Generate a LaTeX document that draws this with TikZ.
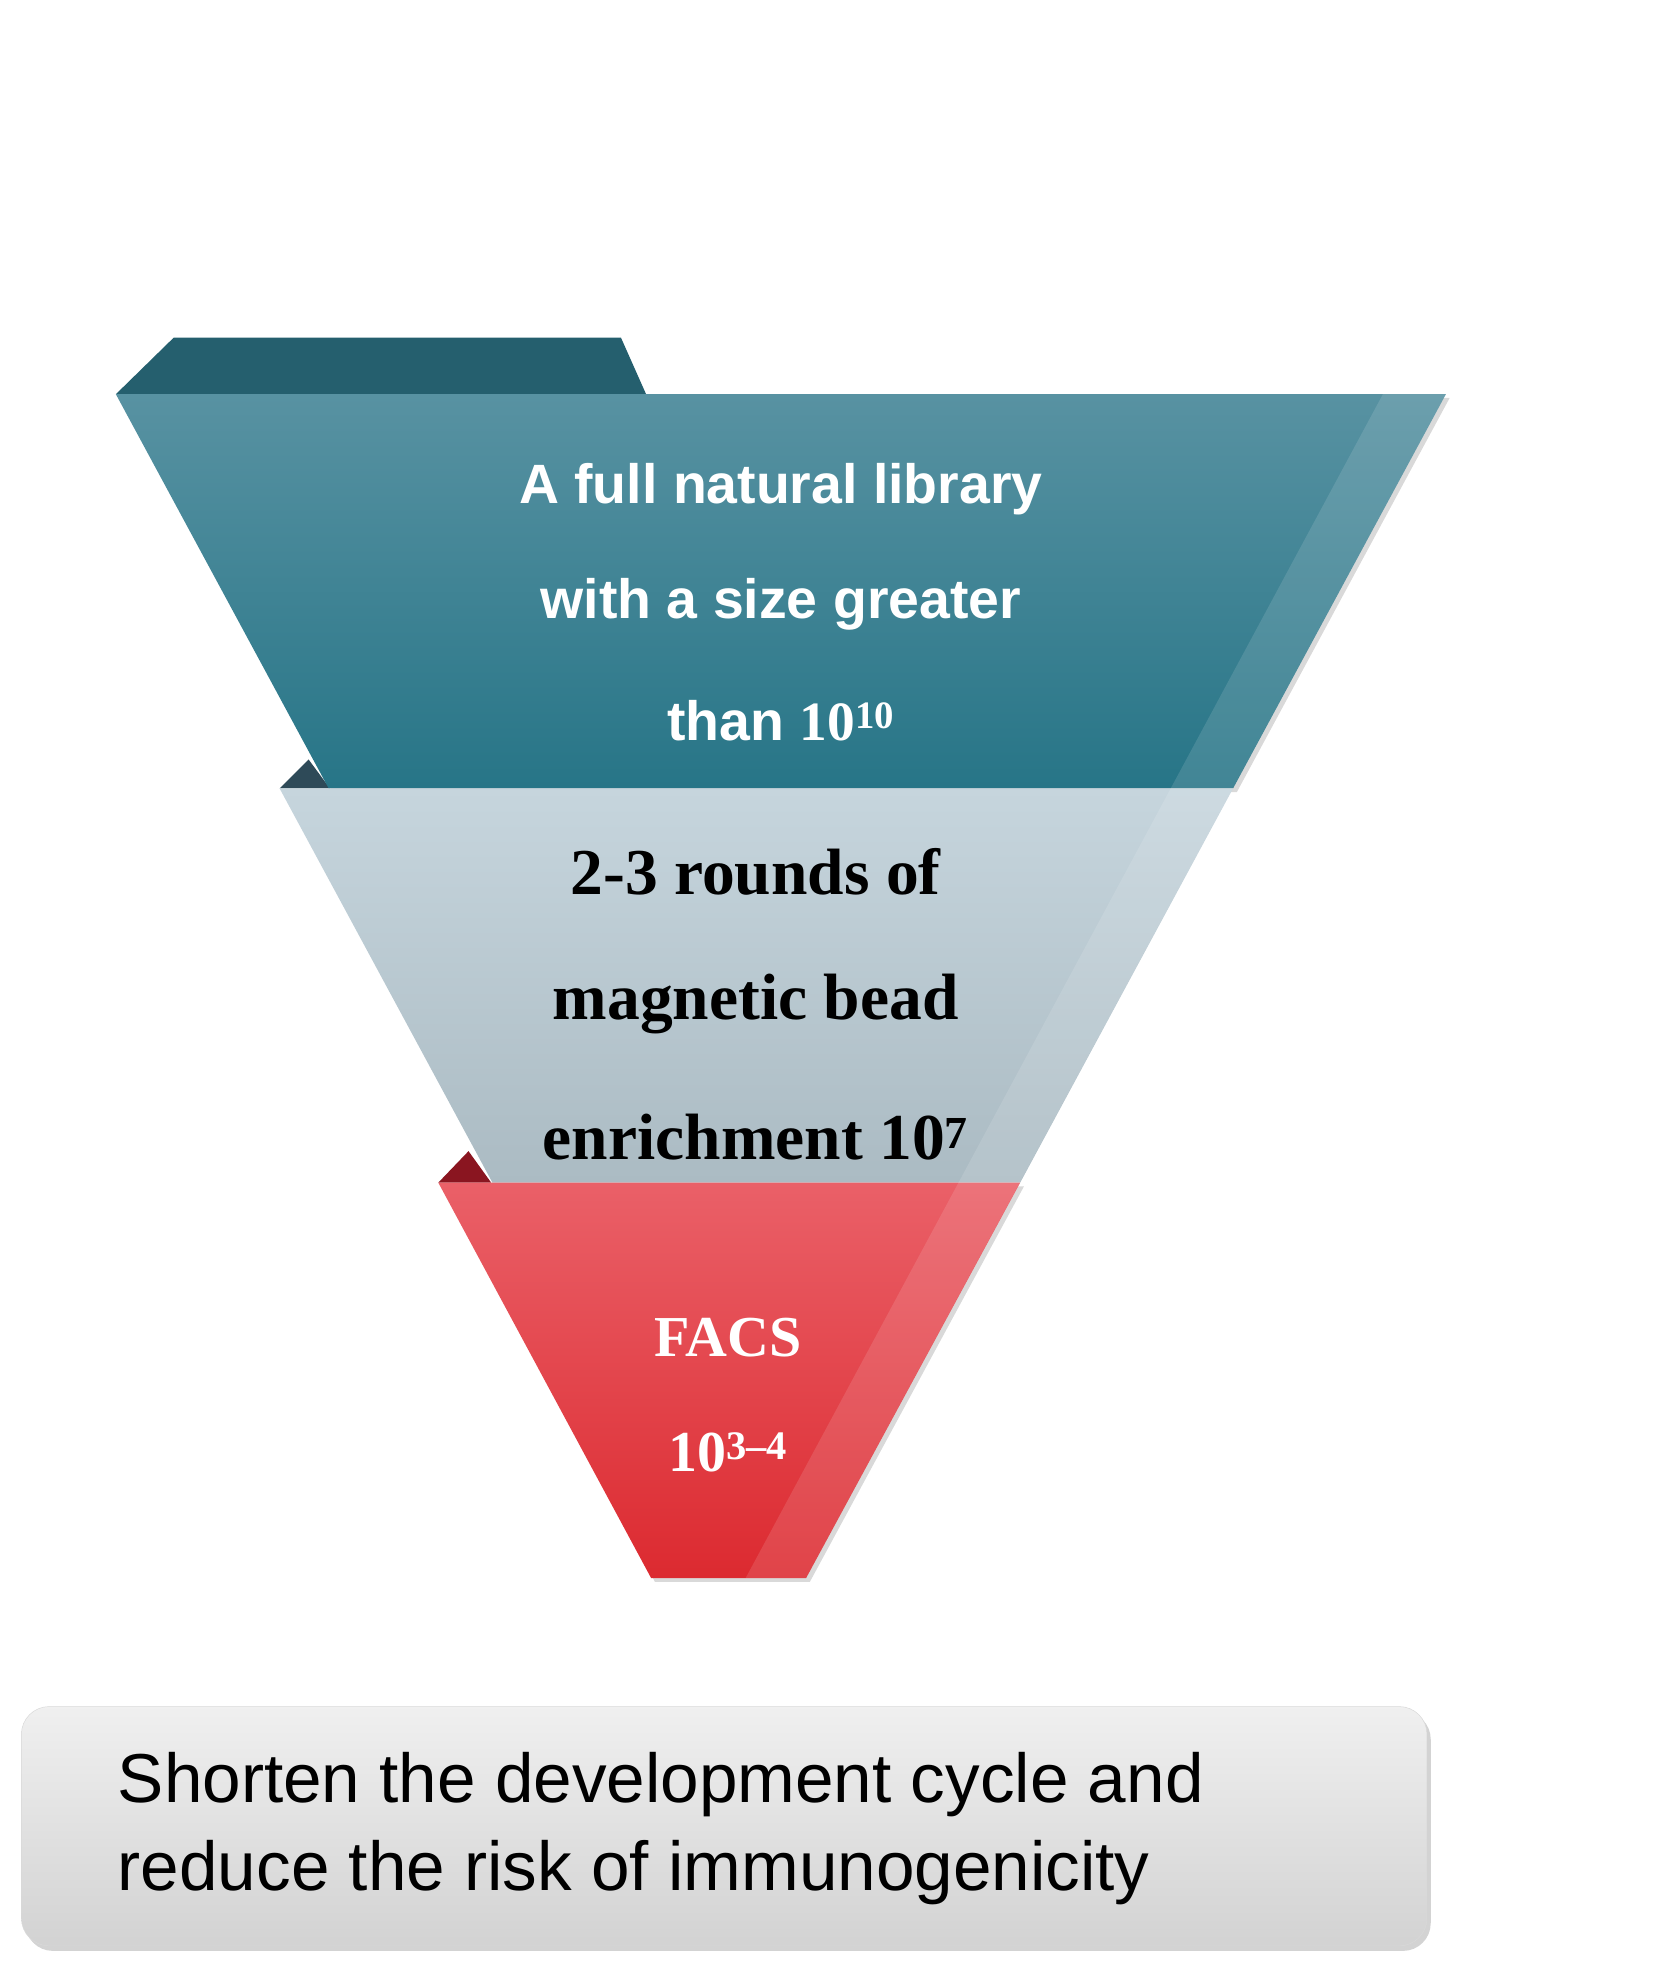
\documentclass[tikz,border=0pt]{standalone}
\usepackage{fontspec}
\setmainfont{Liberation Serif}
\newfontfamily\arial{Liberation Sans}
\usetikzlibrary{shadows}
\definecolor{tealT}{HTML}{5892A2}
\definecolor{tealB}{HTML}{277587}
\definecolor{tealD}{HTML}{255F6E}
\definecolor{grayT}{HTML}{C6D5DD}
\definecolor{grayB}{HTML}{ABBBC3}
\definecolor{grayD}{HTML}{2E4A58}
\definecolor{redT}{HTML}{EA6068}
\definecolor{redB}{HTML}{DC2A30}
\definecolor{redD}{HTML}{8A1520}
\tikzset{
  toptxt/.style={text=white,font=\arial\bfseries\fontsize{44}{50}\selectfont,anchor=center},
  midtxt/.style={text=black,font=\bfseries\fontsize{52}{58}\selectfont,anchor=center},
  redtxt/.style={text=white,font=\bfseries\fontsize{46}{52}\selectfont,anchor=center},
  botbox/.style={rounded corners=22pt,top color=gray!12,bottom color=gray!35,draw=gray!30,drop shadow={opacity=0.35,shadow xshift=3pt,shadow yshift=-4pt}}
}
\begin{document}
\begin{tikzpicture}[x=1pt,y=-1pt]
\useasboundingbox (0,0) rectangle (1313,1561);
% tabs
\fill[tealD] (92,313) -- (138,268) -- (493,268) -- (513,313) -- cycle;
\fill[grayD] (222,626) -- (245,603) -- (262,626) -- cycle;
\fill[redD] (348,939) -- (372,914) -- (390,939) -- cycle;
% bands
\shade[top color=tealT,bottom color=tealB,drop shadow={opacity=0.3,shadow xshift=3pt,shadow yshift=-3pt}] (92,313) -- (1148,313) -- (979,626) -- (261,626) -- cycle;
\shade[top color=grayT,bottom color=grayB] (222,626) -- (979,626) -- (810,939) -- (391,939) -- cycle;
\shade[top color=redT,bottom color=redB,drop shadow={opacity=0.3,shadow xshift=3pt,shadow yshift=-3pt}] (348,939) -- (810,939) -- (640,1253) -- (517,1253) -- cycle;
% highlight stripe
\fill[white,opacity=0.12] (1098,313) -- (1148,313) -- (640,1253) -- (592,1253) -- cycle;
% texts
\node[toptxt] (t1) at (620,388) {A full natural library};
\node[toptxt] (t2) at (620,480) {with a size greater};
\node[toptxt] (t3) at (620,572) {than {\rmfamily 10\textsuperscript{10}}};
\node[midtxt] (m1) at (600,692) {2-3 rounds of};
\node[midtxt] (m2) at (600,797) {magnetic bead};
\node[midtxt] (m3) at (600,903) {enrichment 10\textsuperscript{7}};
\node[redtxt] (r1) at (578,1062) {FACS};
\node[redtxt] (r2) at (578,1153) {10\textsuperscript{3–4}};
% bottom box
\draw[botbox] (17,1355) rectangle (1133,1545);
\node[anchor=west,align=left,font=\arial\fontsize{55}{70}\selectfont] (b) at (90,1452) {Shorten the development cycle and\\reduce the risk of immunogenicity};
\end{tikzpicture}
\end{document}
